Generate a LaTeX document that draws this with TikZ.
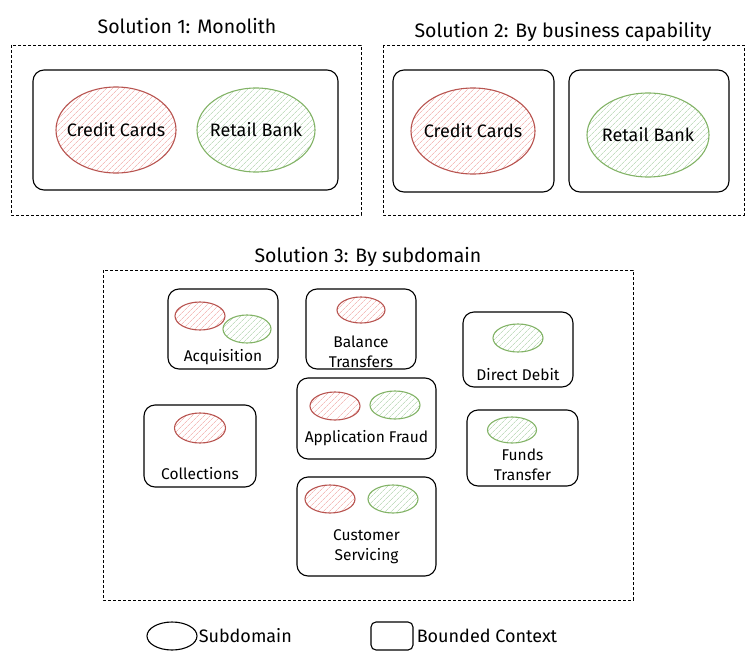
\documentclass[tikz,border=0pt]{standalone}
\usepackage{fontspec}
\setmainfont{Fira Sans}
\usetikzlibrary{shapes.geometric,patterns.meta}
\definecolor{cardred}{RGB}{184,84,80}
\definecolor{cardpink}{RGB}{244,190,188}
\definecolor{bankgreen}{RGB}{130,179,102}
\definecolor{banklight}{RGB}{196,222,194}
\tikzset{
    %Define style for the dashed solution frames
    frame/.style={
           draw=black, densely dashed, thin},
    %Define style for bounded contexts
    ctxbox/.style={
           rectangle,
           rounded corners=11pt,
           draw=black, line width=1.1pt},
    %Define style for subdomains
    subdom/.style={
           ellipse,
           draw, line width=1.1pt,
           inner sep=0pt},
    red sub/.style={subdom, draw=cardred,
           pattern={Lines[angle=45,distance=4pt,line width=0.8pt]},
           pattern color=cardpink},
    green sub/.style={subdom, draw=bankgreen,
           pattern={Lines[angle=45,distance=4pt,line width=0.8pt]},
           pattern color=banklight},
    % Define label styles
    title/.style={font=\fontsize{19.5}{22}\selectfont},
    lbl/.style={font=\fontsize{18}{20}\selectfont, align=center},
    small/.style={font=\fontsize{15.5}{20}\selectfont, align=center}
}
\begin{document}
\begin{tikzpicture}[x=1pt,y=-1pt]
\useasboundingbox (0,0) rectangle (754,661);
% Solution 1
\node[title](t1) at (187,26){Solution 1: Monolith};
\draw[frame] (11,45) rectangle (361,215);
\node[ctxbox, minimum width=305pt, minimum height=120pt](mono) at (185.5,130){};
\node[red sub, minimum width=120pt, minimum height=86pt](cc1) at (116,130){};
\node[lbl] at (cc1){Credit Cards};
\node[green sub, minimum width=118pt, minimum height=84pt](rb1) at (256,130){};
\node[lbl] at (rb1){Retail Bank};
% Solution 2
\node[title](t2) at (563,32){Solution 2: By business capability};
\draw[frame] (383,45) rectangle (744,215);
\node[ctxbox, minimum width=161pt, minimum height=122pt](cards) at (473.5,131){};
\node[ctxbox, minimum width=160pt, minimum height=122pt](bank) at (649,131){};
\node[red sub, minimum width=124pt, minimum height=86pt](cc2) at (473,131){};
\node[lbl] at (cc2){Credit Cards};
\node[green sub, minimum width=122pt, minimum height=84pt](rb2) at (648,135){};
\node[lbl] at (rb2){Retail Bank};
% Solution 3
\node[title](t3) at (368,257){Solution 3: By subdomain};
\draw[frame] (103,270) rectangle (633,600);
\node[ctxbox, minimum width=110pt, minimum height=80pt](acq) at (223,329){};
\node[red sub, minimum width=50pt, minimum height=28pt](acqr) at (200,316){};
\node[green sub, minimum width=48pt, minimum height=28pt](acqg) at (247,329){};
\node[small] at (223,357){Acquisition};
\node[ctxbox, minimum width=110pt, minimum height=80pt](bal) at (361,329){};
\node[red sub, minimum width=48pt, minimum height=26pt](balr) at (361,310){};
\node[small] at (361,352){Balance\\Transfers};
\node[ctxbox, minimum width=110pt, minimum height=75pt](dd) at (518,349.5){};
\node[green sub, minimum width=50pt, minimum height=28pt](ddg) at (518,338){};
\node[small] at (518,375){Direct Debit};
\node[ctxbox, minimum width=139pt, minimum height=81pt](fraud) at (366.5,418.5){};
\node[red sub, minimum width=50pt, minimum height=28pt](fraudr) at (335,406){};
\node[green sub, minimum width=50pt, minimum height=28pt](fraudg) at (395,405){};
\node[small] at (366.5,438){Application Fraud};
\node[ctxbox, minimum width=112pt, minimum height=82pt](coll) at (200,446){};
\node[red sub, minimum width=51pt, minimum height=30pt](collr) at (200,428){};
\node[small] at (200,474){Collections};
\node[ctxbox, minimum width=111pt, minimum height=76pt](funds) at (522.5,448){};
\node[green sub, minimum width=49pt, minimum height=26pt](fundsg) at (512,430){};
\node[small] at (522.5,465){Funds\\Transfer};
\node[ctxbox, minimum width=139pt, minimum height=99pt](serv) at (366.5,526.5){};
\node[red sub, minimum width=50pt, minimum height=28pt](servr) at (330,499){};
\node[green sub, minimum width=50pt, minimum height=28pt](servg) at (393,499){};
\node[small] at (366.5,547){Customer\\Servicing};
% Legend
\node[subdom, draw=black, minimum width=50pt, minimum height=28pt](legsub) at (172,636){};
\node[lbl, anchor=west, inner sep=1pt](legsubt) at (legsub.east){Subdomain};
\node[ctxbox, rounded corners=5pt, minimum width=42pt, minimum height=28pt](legctx) at (392,636){};
\node[lbl, anchor=west, inner sep=3pt](legctxt) at (legctx.east){Bounded Context};
\end{tikzpicture}
\end{document}
